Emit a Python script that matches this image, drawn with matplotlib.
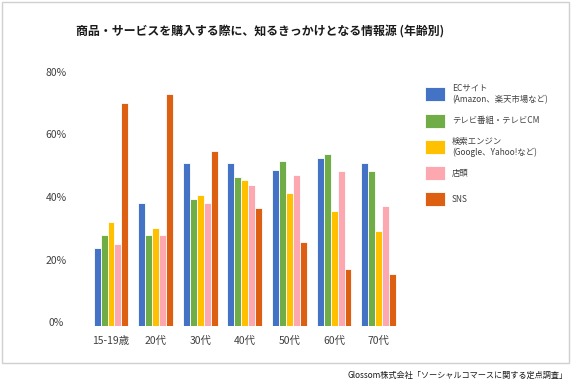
import matplotlib
matplotlib.use('Agg')
import matplotlib.pyplot as plt
import matplotlib.transforms as mtransforms
from matplotlib.patches import Rectangle
import numpy as np

plt.rcParams['font.family'] = ['Noto Sans CJK JP', 'DejaVu Sans']

# data (%)
ages = ['15-19歳', '20代', '30代', '40代', '50代', '60代', '70代']
series = ['ECサイト\n(Amazon、楽天市場など)', 'テレビ番組・テレビCM',
          '検索エンジン\n(Google、Yahoo!など)', '店頭', 'SNS']
ec = [25.1, 39.3, 52.1, 52.3, 49.9, 53.9, 52.3]
tv = [29.1, 29.1, 40.5, 47.6, 52.9, 55.1, 49.5]
search = [33.3, 31.3, 41.9, 46.8, 42.5, 36.8, 30.4]
store = [26.2, 29.1, 39.3, 45.1, 48.3, 49.5, 38.4]
sns = [71.3, 74.2, 56.0, 37.9, 26.8, 18.3, 16.6]
yticks = [0, 20, 40, 60, 80]

colors = ['#4472C4', '#70AD47', '#FFC000', '#FDA8B0', '#DD5F12']
values = [ec, tv, search, store, sns]

W, H = 574, 386
fig = plt.figure(figsize=(W / 100, H / 100), dpi=100)
fig.patch.set_facecolor('white')

# outer chart border
fig.add_artist(Rectangle((1.5 / W, 1 - 362.5 / H), 567 / W, 361 / H,
                         transform=fig.transFigure, fill=False,
                         edgecolor='#D0D0D0', linewidth=1))

left, right, bottom, top = 88.7, 401, 326, 76
ax = fig.add_axes([left / W, 1 - bottom / H, (right - left) / W, (bottom - top) / H])

x = np.arange(len(ages))
bw = 0.78 / 5
for i, (vals, c) in enumerate(zip(values, colors)):
    ax.bar(x + (i - 2) * bw, vals, width=bw, color=c,
           edgecolor='white', linewidth=0.6)

ax.set_xlim(-0.5, len(ages) - 0.5)
ax.set_ylim(0, 80)
ax.set_yticks(yticks)
ax.set_yticklabels([f'{v}%' for v in yticks])
ax.set_xticks(x)
ax.set_xticklabels(ages)
ax.tick_params(axis='both', length=0, labelsize=7.5, colors='#404040')
ax.tick_params(axis='x', pad=7)
ax.tick_params(axis='y', pad=23.5)
off = mtransforms.ScaledTranslation(0, 4 / 100, fig.dpi_scale_trans)
for lab in ax.get_yticklabels():
    lab.set_transform(lab.get_transform() + off)
    lab.set_horizontalalignment('center')
for s in ax.spines.values():
    s.set_visible(False)

# title
fig.text(260 / W, 1 - 32 / H, '商品・サービスを購入する際に、知るきっかけとなる情報源 (年齢別)',
         ha='center', va='center', fontsize=8.6, fontweight='bold', color='#1a1a1a')

# legend
leg_y = [94, 121, 147, 173, 199]
for lab, c, yy in zip(series, colors, leg_y):
    fig.add_artist(Rectangle((425 / W, 1 - (yy + 7) / H), 20 / W, 14 / H,
                             transform=fig.transFigure, facecolor=c,
                             edgecolor='white', linewidth=0.6))
    fig.text(452 / W, 1 - yy / H, lab, ha='left', va='center',
             fontsize=6.0, color='#404040', linespacing=1.3)

# source
fig.text(568 / W, 1 - 375 / H, 'Glossom株式会社「ソーシャルコマースに関する定点調査」',
         ha='right', va='center', fontsize=5.9, color='#1a1a1a')

fig.savefig('out.png', dpi=100, facecolor='white')
